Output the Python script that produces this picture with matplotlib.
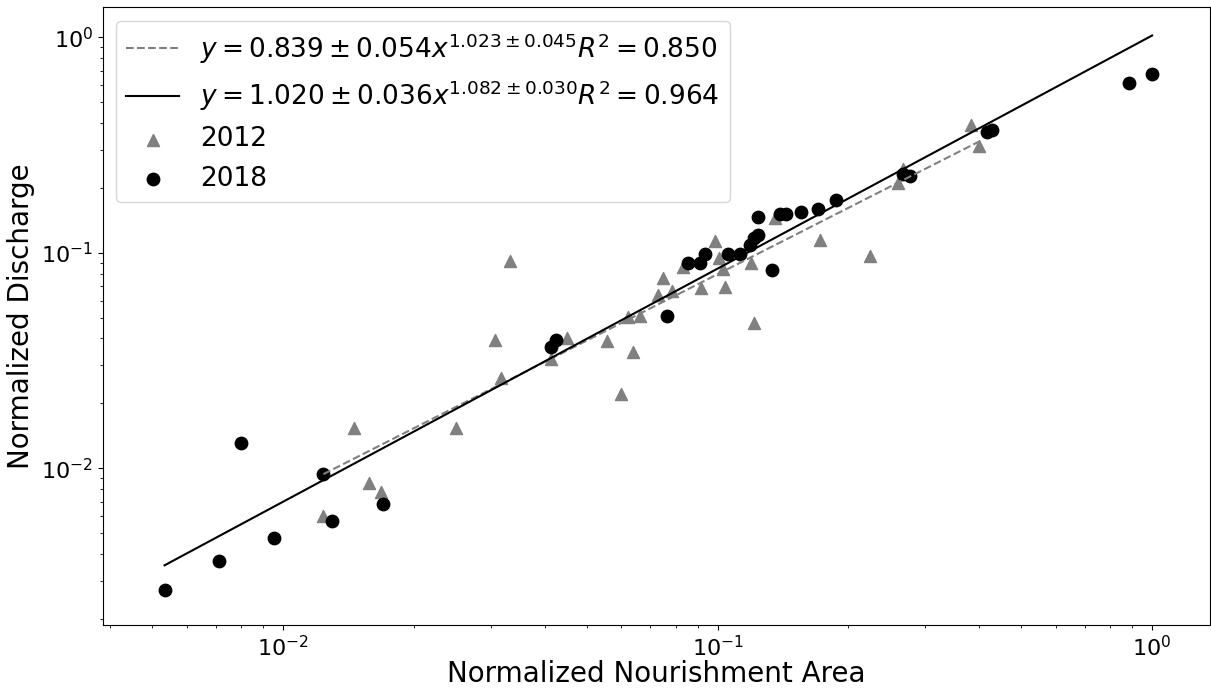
import matplotlib as mpl
mpl.use('Agg')
import matplotlib.pyplot as plt
import numpy as np

# 2012 survey (triangles)
area_2012 = [0.01237, 0.01456, 0.01574, 0.01681, 0.02504, 0.03064, 0.03163, 0.03324,
             0.04126, 0.04508, 0.05558, 0.05984, 0.06202, 0.06622, 0.0640, 0.0730,
             0.0749, 0.0785, 0.0831, 0.0916, 0.0988, 0.1006, 0.1027, 0.1040,
             0.1194, 0.1211, 0.1352, 0.1723, 0.2247, 0.2604, 0.2675, 0.3824, 0.3998]
disch_2012 = [0.0060, 0.01535, 0.00857, 0.00776, 0.0153, 0.0394, 0.02622, 0.0914,
              0.03214, 0.0401, 0.0388, 0.02209, 0.0502, 0.0506, 0.0345, 0.0638,
              0.0765, 0.0668, 0.0857, 0.0684, 0.1129, 0.0948, 0.0843, 0.0692,
              0.0895, 0.0471, 0.1449, 0.1141, 0.0961, 0.2100, 0.246, 0.391, 0.312]

# 2018 survey (circles)
area_2018 = [0.00533, 0.00711, 0.0080, 0.00952, 0.01233, 0.01297, 0.0170, 0.04126,
             0.04236, 0.0765, 0.0853, 0.0912, 0.0935, 0.1055, 0.1128, 0.1190,
             0.1211, 0.1241, 0.1241, 0.1333, 0.1388, 0.1438, 0.1552, 0.1702,
             0.1870, 0.2665, 0.2770, 0.4163, 0.4275, 0.884, 1.0]
disch_2018 = [0.00272, 0.00372, 0.01315, 0.00474, 0.00944, 0.00571, 0.00680, 0.0364,
              0.0394, 0.0506, 0.0895, 0.0895, 0.0982, 0.0989, 0.0989, 0.1089,
              0.1169, 0.1213, 0.1464, 0.0836, 0.1518, 0.1518, 0.1545, 0.1602,
              0.1764, 0.2313, 0.2264, 0.364, 0.3733, 0.611, 0.675]

# power law fits shown in the legend: (a, da, b, db, r2)
fit_2012 = (0.839, 0.054, 1.023, 0.045, 0.850)
fit_2018 = (1.020, 0.036, 1.082, 0.030, 0.964)


def fit_label(f):
    a, da, b, db, r2 = f
    return r'$y = %.3f \pm %.3f x^{%.3f \pm %.3f} R^2 = %.3f$' % (a, da, b, db, r2)


def fit_line(xs, f):
    x = np.array([min(xs), max(xs)])
    return x, f[0] * x ** f[2]


def main():
    fig = plt.figure(figsize=(12.11, 6.9), dpi=100)
    ax = fig.add_axes([0.0848, 0.0942, 0.914, 0.8952])

    x, y = fit_line(area_2012, fit_2012)
    ax.plot(x, y, '--', color='grey', lw=1.5, label=fit_label(fit_2012))
    x, y = fit_line(area_2018, fit_2018)
    ax.plot(x, y, '-', color='black', lw=1.5, label=fit_label(fit_2018))

    ax.scatter(area_2012, disch_2012, marker='^', s=75, color='grey', label='2012')
    ax.scatter(area_2018, disch_2018, marker='o', s=80, color='black', label='2018')

    ax.set_xscale('log')
    ax.set_yscale('log')
    ax.set_xlim(0.00384, 1.356)
    ax.set_ylim(0.00187, 1.379)
    ax.tick_params(labelsize=16)
    ax.set_xlabel('Normalized Nourishment Area', fontsize=20, labelpad=0)
    ax.set_ylabel('Normalized Discharge', fontsize=20)
    ax.legend(loc='upper left', fontsize=19)

    plt.savefig('out.png')


if __name__ == '__main__':
    main()
